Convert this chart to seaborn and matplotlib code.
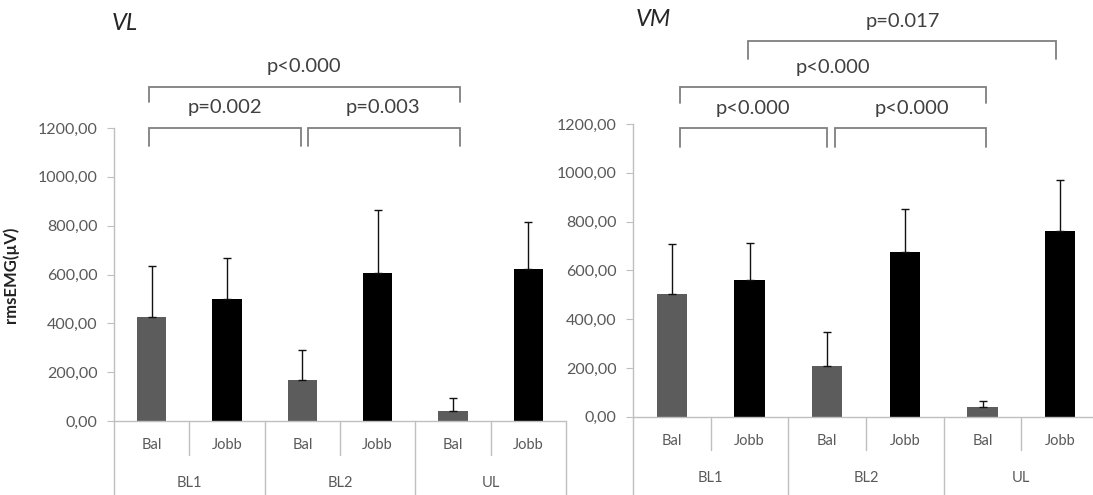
import matplotlib
matplotlib.use("Agg")
import matplotlib.pyplot as plt
import numpy as np
import pandas as pd
import seaborn as sns

# ---- data -------------------------------------------------------------
phases = ["BL1", "BL2", "UL"]
sides = ["Bal", "Jobb"]

vl_mean = [427, 498, 168, 607, 42, 621]
vl_sd = [208, 168, 123, 257, 53, 195]
vm_mean = [503, 560, 209, 674, 38, 762]
vm_sd = [205, 153, 137, 176, 26, 208]

y_ticks = [0, 200, 400, 600, 800, 1000, 1200]

# significance brackets: (x_start, x_end, y_bar, y_tick_end, label, label_x, label_y)
vl_brackets = [
    (-0.03, 1.98, 1200, 1125, "p=0.002", 0.97, 1282),
    (2.07, 4.09, 1200, 1125, "p=0.003", 3.07, 1282),
    (-0.03, 4.09, 1368, 1306, "p<0.000", 2.02, 1450),
]
vm_brackets = [
    (0.10, 2.00, 1185, 1107, "p<0.000", 1.05, 1265),
    (2.10, 4.04, 1185, 1107, "p<0.000", 3.09, 1265),
    (0.10, 4.04, 1352, 1286, "p<0.000", 2.08, 1433),
    (0.98, 4.95, 1540, 1466, "p=0.017", 2.97, 1622),
]

# ---- style ------------------------------------------------------------
sns.set_theme(style="white")
plt.rcParams["font.family"] = ["Lato", "DejaVu Sans"]

BAR_COLORS = {"Bal": "#5c5c5c", "Jobb": "#000000"}
AXIS_GRAY = "#bfbfbf"
TEXT_GRAY = "#595959"


def make_frame(means, sds):
    rows = []
    for i, ph in enumerate(phases):
        for j, sd in enumerate(sides):
            k = i * len(sides) + j
            rows.append({"cond": f"{ph} {sd}", "phase": ph, "side": sd,
                         "value": means[k], "sd": sds[k]})
    return pd.DataFrame(rows)


def draw_panel(ax, df, title, brackets, ylab=None):
    order = list(df["cond"])
    sns.barplot(data=df, x="cond", y="value", hue="side", order=order,
                hue_order=sides, palette=BAR_COLORS, dodge=False,
                width=0.39, errorbar=None, legend=False, ax=ax,
                saturation=1, linewidth=0)
    xs = np.arange(len(order))
    ax.errorbar(xs, df["value"], yerr=[np.zeros(len(xs)), df["sd"]],
                fmt="none", ecolor="#111111", elinewidth=1.0,
                capsize=3.0, capthick=1.0, zorder=3)

    ax.set_xlim(-0.5, len(order) - 0.5)
    ax.set_ylim(0, 1200)
    ax.set_yticks(y_ticks)
    ax.set_yticklabels([f"{v},00" for v in y_ticks], color=TEXT_GRAY,
                       fontsize=11.5)
    ax.tick_params(axis="y", direction="out", length=5, width=0.8,
                   color=AXIS_GRAY, pad=7, left=True)
    ax.tick_params(axis="x", bottom=False, labelbottom=False)
    ax.set_xlabel("")
    if ylab:
        ax.set_ylabel(ylab, fontsize=12, fontweight="bold", color="#222222")
    else:
        ax.set_ylabel("")

    for side in ["top", "right"]:
        ax.spines[side].set_visible(False)
    for side in ["left", "bottom"]:
        ax.spines[side].set_color(AXIS_GRAY)
        ax.spines[side].set_linewidth(1.0)

    # two-level category axis
    tr = ax.get_xaxis_transform()
    for k, row in df.iterrows():
        ax.text(k, -0.083, row["side"], transform=tr, ha="center",
                va="center", fontsize=10.5, color=TEXT_GRAY, clip_on=False)
    for i, ph in enumerate(phases):
        ax.text(i * 2 + 0.5, -0.21, ph, transform=tr, ha="center",
                va="center", fontsize=10.5, color=TEXT_GRAY, clip_on=False)
    for i in range(len(phases)):
        xi = i * 2 + 0.5
        ax.plot([xi, xi], [0, -0.115], transform=tr, color=AXIS_GRAY,
                lw=1.0, clip_on=False)
    for xb in [-0.5, 1.5, 3.5, 5.5]:
        ax.plot([xb, xb], [0, -0.3], transform=tr, color=AXIS_GRAY,
                lw=1.0, clip_on=False)

    # significance brackets
    for x0, x1, yb, yt, lab, lx, ly in brackets:
        ax.plot([x0, x0, x1, x1], [yt, yb, yb, yt], color="#7f7f7f",
                lw=1.3, clip_on=False, solid_joinstyle="miter")
        ax.text(lx, ly, lab, ha="center", va="center", fontsize=14.5,
                color="#404040", clip_on=False)

    ax.text(title[1], title[2], title[0], transform=ax.figure.transFigure,
            ha="left", va="center", fontsize=17, style="italic",
            color="#262626")


fig = plt.figure(figsize=(10.93, 4.95), dpi=100)
W, H = 1093, 495
ax_l = fig.add_axes([114 / W, (H - 421) / H, 452 / W, 293 / H])
ax_r = fig.add_axes([633 / W, (H - 416.7) / H, 466 / W, 292.7 / H])

draw_panel(ax_l, make_frame(vl_mean, vl_sd), ("VL", 112 / W, 1 - 24 / H),
           vl_brackets, ylab="rmsEMG(\u00b5V)")
draw_panel(ax_r, make_frame(vm_mean, vm_sd), ("VM", 636 / W, 1 - 20 / H),
           vm_brackets)

ax_l.yaxis.set_label_coords(-0.21, 0.5)

fig.savefig("out.png", dpi=100, facecolor="white")
